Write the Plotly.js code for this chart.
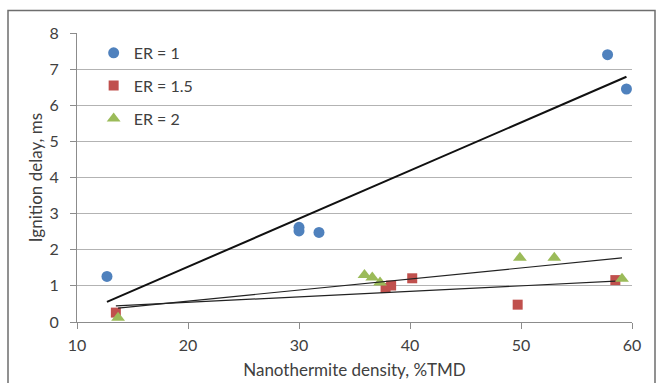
<!DOCTYPE html>
<html>
<head>
<meta charset="utf-8">
<script src="https://cdn.plot.ly/plotly-3.0.1.min.js"></script>
<style>html,body{margin:0;padding:0;background:#fff;}#chart{width:657px;height:383px;}</style>
</head>
<body>
<div id="chart"></div>
<script>
// Data
const seriesNames = ["ER = 1", "ER = 1.5", "ER = 2"];
const er1_x = [12.7, 30.0, 30.0, 31.8, 57.8, 59.5];
const er1_y = [1.26, 2.62, 2.52, 2.48, 7.40, 6.45];
const er15_x = [13.5, 37.8, 38.3, 40.2, 49.7, 58.5];
const er15_y = [0.26, 0.94, 1.01, 1.21, 0.48, 1.16];
const er2_x = [13.7, 35.9, 36.6, 37.3, 49.9, 53.0, 59.1];
const er2_y = [0.12, 1.30, 1.23, 1.09, 1.78, 1.78, 1.20];
const xTicks = [10, 20, 30, 40, 50, 60];
const yTicks = [0, 1, 2, 3, 4, 5, 6, 7, 8];

// Least-squares linear trendline (as in the spreadsheet chart)
function trend(xs, ys) {
  const n = xs.length;
  const mx = xs.reduce((a, b) => a + b, 0) / n;
  const my = ys.reduce((a, b) => a + b, 0) / n;
  let sxy = 0, sxx = 0;
  for (let i = 0; i < n; i++) { sxy += (xs[i] - mx) * (ys[i] - my); sxx += (xs[i] - mx) ** 2; }
  const m = sxy / sxx, b = my - m * mx;
  const x0 = Math.min(...xs), x1 = Math.max(...xs);
  return { x: [x0, x1], y: [m * x0 + b, m * x1 + b] };
}

const colors = ["#4F81BD", "#C0504D", "#9BBB59"];
const font = "Lato, 'Liberation Sans', sans-serif";
const t1 = trend(er1_x, er1_y), t15 = trend(er15_x, er15_y), t2 = trend(er2_x, er2_y);

const data = [
  { x: er1_x, y: er1_y, name: seriesNames[0], legendgroup: "a", mode: "markers", type: "scatter",
    marker: { symbol: "circle", size: 11, color: colors[0] } },
  { x: er15_x, y: er15_y, name: seriesNames[1], legendgroup: "b", mode: "markers", type: "scatter",
    marker: { symbol: "square", size: 10, color: colors[1] } },
  { x: er2_x, y: er2_y, name: seriesNames[2], legendgroup: "c", mode: "markers", type: "scatter",
    marker: { symbol: "triangle-up", size: 12, color: colors[2] } },
  { x: t1.x, y: t1.y, mode: "lines", type: "scatter", showlegend: false, hoverinfo: "skip",
    line: { color: "#111", width: 2 } },
  { x: t15.x, y: t15.y, mode: "lines", type: "scatter", showlegend: false, hoverinfo: "skip",
    line: { color: "#222", width: 1.2 } },
  { x: t2.x, y: t2.y, mode: "lines", type: "scatter", showlegend: false, hoverinfo: "skip",
    line: { color: "#222", width: 1.2 } }
];

const layout = {
  width: 657, height: 383,
  margin: { l: 77, r: 25, t: 33, b: 61, pad: 0 },
  paper_bgcolor: "#fff", plot_bgcolor: "#fff",
  font: { family: font, size: 16, color: "#404040" },
  showlegend: true,
  legend: { x: 0.03, y: 0.99, xanchor: "left", yanchor: "top", bgcolor: "rgba(0,0,0,0)",
    font: { size: 16, color: "#404040" }, tracegroupgap: 9 },
  xaxis: {
    range: [10, 60], tickvals: xTicks, ticktext: xTicks.map(String),
    showgrid: false, zeroline: false, showline: true, linecolor: "#8c8c8c", linewidth: 1,
    ticks: "outside", ticklen: 6, tickcolor: "#8c8c8c", tickfont: { size: 16 }, ticklabelstandoff: 3,
    title: { text: "Nanothermite density, %TMD", font: { size: 17 }, standoff: 10 }
  },
  yaxis: {
    range: [0, 8], tickvals: yTicks, ticktext: yTicks.map(v => v + "\u2002"),
    showgrid: true, gridcolor: "#b3b3b3", gridwidth: 1, zeroline: false,
    showline: true, linecolor: "#8c8c8c", linewidth: 1,
    ticks: "outside", ticklen: 6, tickcolor: "#8c8c8c", tickfont: { size: 16 },
    title: { text: "Ignition delay, ms", font: { size: 17 }, standoff: 2 }
  },
  shapes: [
    { type: "rect", xref: "paper", yref: "paper",
      x0: (8 - 77) / 555, x1: (655 - 77) / 555, y0: (322 - 390) / 289, y1: (322 - 10.5) / 289,
      line: { color: "#6e6e6e", width: 1.5 }, fillcolor: "rgba(0,0,0,0)", layer: "below" }
  ]
};

Plotly.newPlot("chart", data, layout, { displayModeBar: false, staticPlot: true });
</script>
</body>
</html>
